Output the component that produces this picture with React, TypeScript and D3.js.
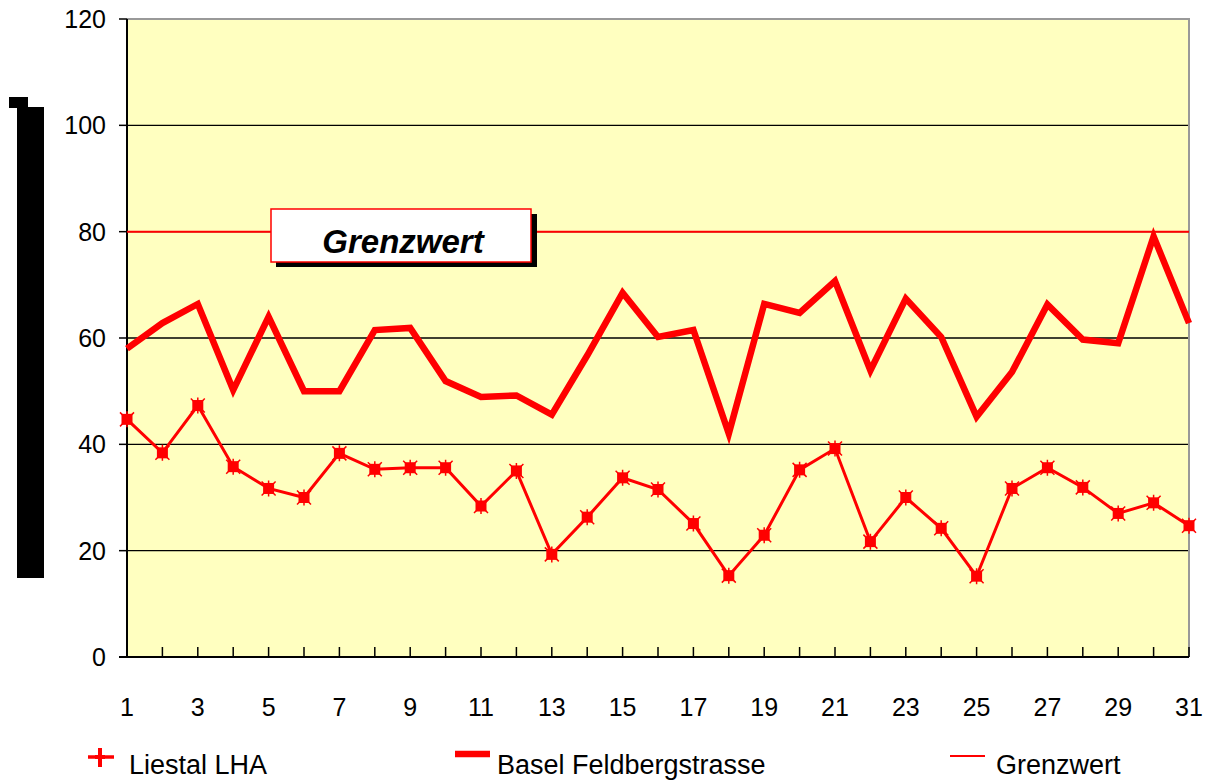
import * as d3 from "d3";

const days: number[] = d3.range(1, 32);
const liestal: number[] = [
  44.7, 38.4, 47.3, 35.8, 31.7, 30.0, 38.3, 35.3, 35.6, 35.6, 28.4, 35.0, 19.3, 26.3, 33.7, 31.5,
  25.1, 15.3, 22.9, 35.2, 39.2, 21.7, 30.0, 24.2, 15.2, 31.7, 35.6, 31.9, 27.0, 29.0, 24.7,
];
const basel: number[] = [
  58.0, 62.8, 66.4, 50.2, 64.0, 50.0, 50.0, 61.5, 61.9, 51.9, 48.9, 49.2, 45.6, 56.7, 68.5, 60.2,
  61.5, 42.0, 66.4, 64.7, 70.7, 53.9, 67.4, 60.2, 45.2, 53.6, 66.3, 59.7, 59.0, 79.1, 62.8,
];
const grenzwert = 80;
const yTicks: number[] = [0, 20, 40, 60, 80, 100, 120];
const legendLabels: string[] = ["Liestal LHA", "Basel Feldbergstrasse", "Grenzwert"];

const width = 1214;
const height = 780;
const plot = { left: 127, right: 1189, top: 19, bottom: 657 };
const font = "'Liberation Sans', Arial, sans-serif";
const red = "#ff0000";

const Marker = ({ x, y }: { x: number; y: number }) => (
  <g transform={`translate(${x},${y})`}>
    <rect x={-5.5} y={-5.5} width={11} height={11} fill={red} />
    <path d="M-7,-7L7,7M-7,7L7,-7M0,-8V8" stroke={red} strokeWidth={1.5} />
  </g>
);

export default function App() {
  const x = d3.scaleLinear().domain([1, 31]).range([plot.left, plot.right]);
  const y = d3.scaleLinear().domain([0, 120]).range([plot.bottom, plot.top]);

  const line = d3
    .line<number>()
    .x((_, i) => x(days[i]))
    .y((d) => y(d));

  return (
    <svg
      width={width}
      height={height}
      style={{ position: "absolute", left: 0, top: 0, background: "#fff" }}
      fontFamily={font}
    >
      {/* black block left of the axis */}
      <rect x={9} y={97} width={19} height={11} fill="#000" />
      <rect x={17} y={107} width={27} height={471} fill="#000" />

      <rect
        x={plot.left}
        y={plot.top}
        width={plot.right - plot.left}
        height={plot.bottom - plot.top}
        fill="#ffffc0"
      />

      {yTicks.slice(1, -1).map((t) => (
        <line key={t} x1={plot.left} x2={plot.right} y1={y(t)} y2={y(t)} stroke="#000" strokeWidth={1.3} />
      ))}

      {/* plot border */}
      <path
        d={`M${plot.left},${plot.top}H${plot.right}V${plot.bottom}`}
        fill="none"
        stroke="#999"
        strokeWidth={2}
      />

      {/* y axis */}
      <line x1={plot.left} x2={plot.left} y1={plot.top} y2={plot.bottom} stroke="#000" strokeWidth={2} />
      {yTicks.map((t) => (
        <g key={t}>
          <line x1={plot.left - 8} x2={plot.left} y1={y(t)} y2={y(t)} stroke="#000" strokeWidth={1.5} />
          <text x={106} y={y(t) + 9} textAnchor="end" fontSize={25}>
            {t}
          </text>
        </g>
      ))}

      {/* x axis */}
      <line x1={plot.left - 8} x2={plot.right} y1={plot.bottom} y2={plot.bottom} stroke="#000" strokeWidth={2} />
      {days.map((d) => (
        <line key={d} x1={x(d)} x2={x(d)} y1={plot.bottom - 10} y2={plot.bottom} stroke="#000" strokeWidth={1.5} />
      ))}
      {days
        .filter((d) => d % 2 === 1)
        .map((d) => (
          <text key={d} x={x(d)} y={716} textAnchor="middle" fontSize={25}>
            {d}
          </text>
        ))}

      {/* Grenzwert */}
      <line x1={plot.left} x2={plot.right} y1={y(grenzwert)} y2={y(grenzwert)} stroke={red} strokeWidth={2} />

      <path d={line(basel) ?? ""} fill="none" stroke={red} strokeWidth={6.5} strokeLinejoin="miter" />
      <path d={line(liestal) ?? ""} fill="none" stroke={red} strokeWidth={3} />
      {liestal.map((v, i) => (
        <Marker key={i} x={x(days[i])} y={y(v)} />
      ))}

      {/* Grenzwert label */}
      <rect x={276} y={214} width={261} height={53} fill="#000" />
      <rect x={271} y={209} width={260} height={53} fill="#fff" stroke={red} strokeWidth={1.5} />
      <text x={403} y={253} textAnchor="middle" fontSize={33} fontWeight="bold" fontStyle="italic">
        Grenzwert
      </text>

      {/* legend */}
      <line x1={88} x2={114} y1={757} y2={757} stroke={red} strokeWidth={3.5} />
      <path d="M100,748V767M95,757H105" stroke={red} strokeWidth={4} />
      <text x={129} y={774} fontSize={27}>
        {legendLabels[0]}
      </text>
      <line x1={455} x2={490} y1={754} y2={754} stroke={red} strokeWidth={6.5} />
      <text x={497} y={774} fontSize={27}>
        {legendLabels[1]}
      </text>
      <line x1={950} x2={985} y1={756} y2={756} stroke={red} strokeWidth={2} />
      <text x={996} y={774} fontSize={27}>
        {legendLabels[2]}
      </text>
    </svg>
  );
}
